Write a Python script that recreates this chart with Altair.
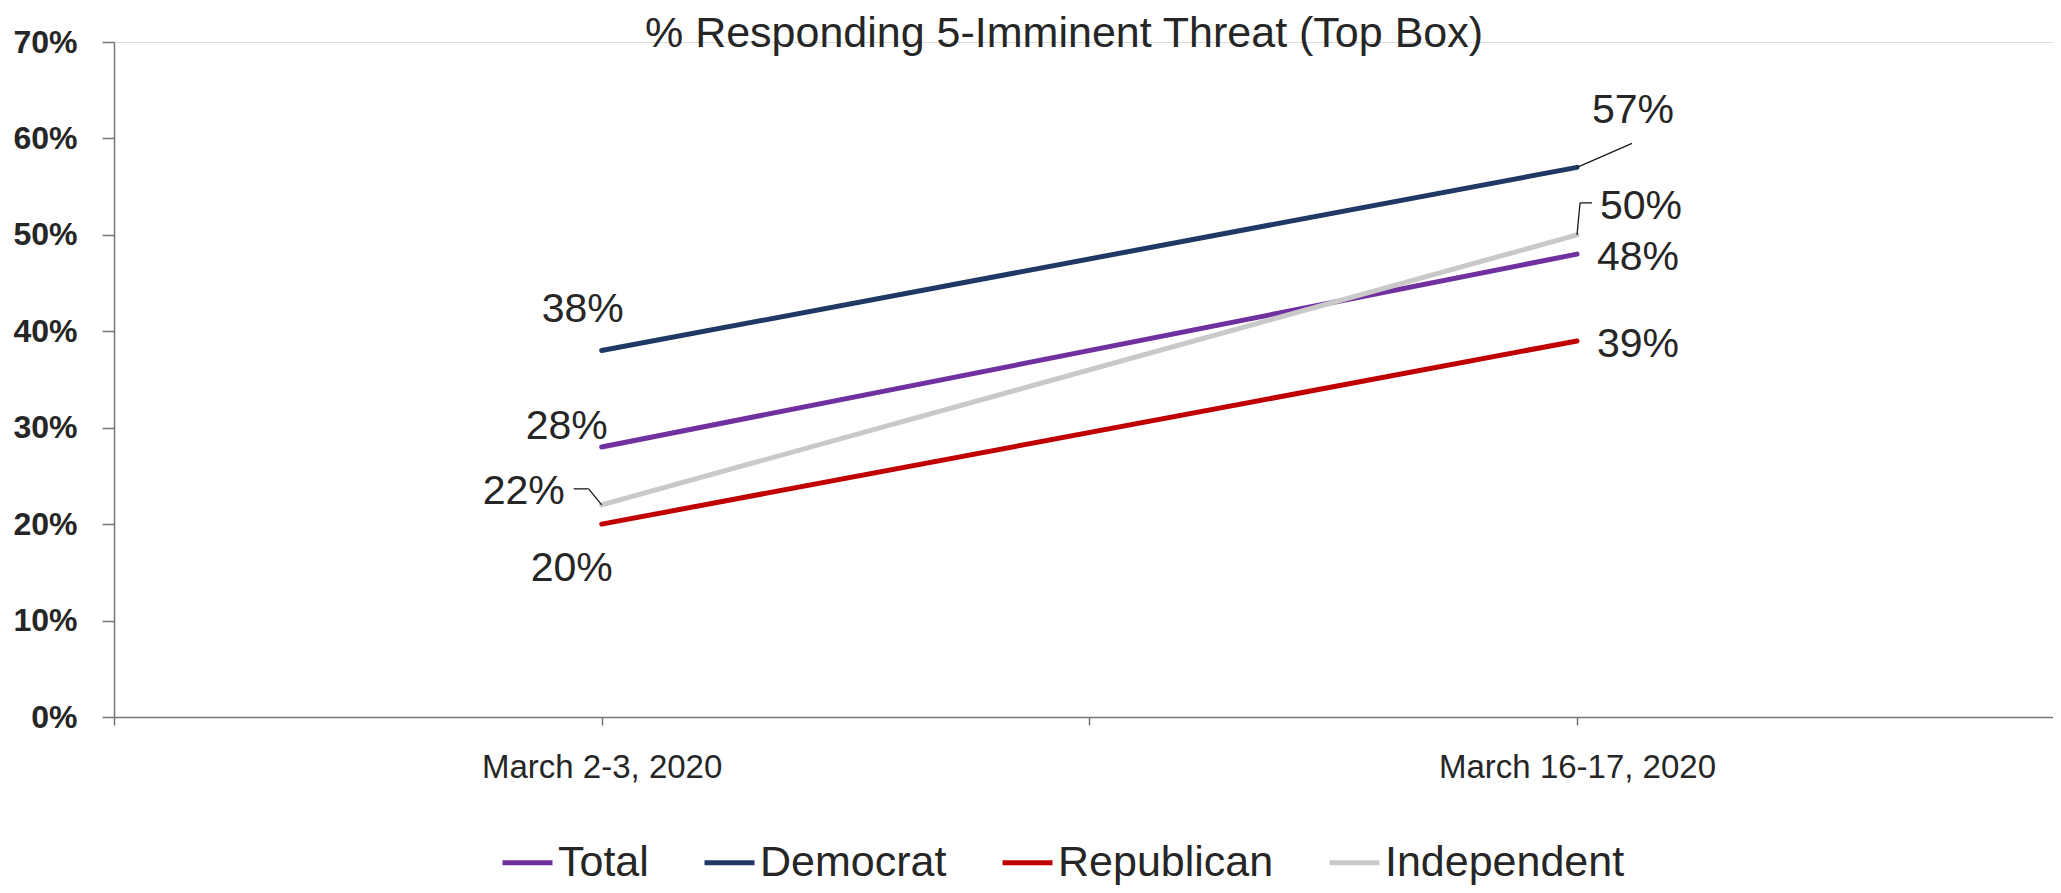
import altair as alt
import pandas as pd

# ---------------- data ----------------
dates = ["March 2-3, 2020", "March 16-17, 2020"]
series = ["Total", "Democrat", "Republican", "Independent"]
total = [28, 48]
democrat = [38, 57]
republican = [20, 39]
independent = [22, 50]
y_ticks = [0, 10, 20, 30, 40, 50, 60, 70]
title_text = "% Responding 5-Imminent Threat (Top Box)"

# ---------------- style ----------------
colors = ["#7030A0", "#1F3864", "#C00000", "#C9C9C9"]
FONT = "Liberation Sans"
TEXT = "#262626"
AXIS = "#767676"

# label offsets (pixels from the data point): series, date index, dx, dy
label_offsets = [
    ("Democrat", 0, -19, -41), ("Total", 0, -35, -20),
    ("Independent", 0, -78, -13), ("Republican", 0, -30, 45),
    ("Democrat", 1, 56, -56), ("Independent", 1, 64, -28),
    ("Total", 1, 61, 4), ("Republican", 1, 61, 4),
]
# leader segments: series, date index, start offset, end offset (pixels)
leaders = [
    ("Independent", 0, (0, 0), (-13, -16)),
    ("Independent", 0, (-13, -16), (-28, -16)),
    ("Democrat", 1, (0, 0), (55, -24)),
    ("Independent", 1, (0, 0), (3, -32)),
    ("Independent", 1, (3, -32), (15, -32)),
]

PAD_L, PAD_T, PAD_R, PAD_B = 106, 34, 0, 168
W, H = 1939, 675
X_MAX = 3.976

values = {"Total": total, "Democrat": democrat,
          "Republican": republican, "Independent": independent}
rows = []
for s in series:
    for i, d in enumerate(dates):
        rows.append({"series": s, "date": d, "pos": 2 * i + 1,
                     "value": values[s][i]})
df = pd.DataFrame(rows)

label_expr = " : ".join(
    [f"datum.value == {2 * i + 1} ? '{d}'" for i, d in enumerate(dates)]
) + " : ''"

x_enc = alt.X(
    "pos:Q",
    scale=alt.Scale(domain=[0, X_MAX], nice=False, zero=False),
    axis=alt.Axis(values=[0, 1, 2, 3], labelExpr=label_expr, title=None,
                  grid=False, tickSize=8, labelPadding=26, labelFontSize=33,
                  labelFont=FONT, labelColor=TEXT, domainColor=AXIS,
                  tickColor=AXIS, domainWidth=1.5, tickWidth=1.5,
                  labelFlush=False, labelOverlap=False, labelLimit=0),
)
y_enc = alt.Y(
    "value:Q",
    scale=alt.Scale(domain=[0, 70], nice=False),
    axis=alt.Axis(values=y_ticks, labelExpr="datum.value + '%'", title=None,
                  grid=False, tickSize=12, labelPadding=25, labelFontSize=32,
                  labelFontWeight="bold", labelFont=FONT, labelColor=TEXT,
                  domainColor=AXIS, tickColor=AXIS, domainWidth=1.5,
                  tickWidth=1.5),
)

base = alt.Chart(df)

lines = base.mark_line(strokeWidth=5, strokeCap="round").encode(
    x=x_enc,
    y=y_enc,
    color=alt.Color(
        "series:N",
        scale=alt.Scale(domain=series, range=colors),
        legend=alt.Legend(title=None, orient="none", legendX=386,
                          legendY=793, direction="horizontal",
                          symbolType="stroke", symbolSize=2500,
                          symbolStrokeWidth=5, labelFontSize=43,
                          labelFont=FONT, labelColor=TEXT, labelOffset=3,
                          columnPadding=45, labelLimit=0, padding=0),
    ),
)

layers = [lines]
for s, i, (x0, y0), (x1, y1) in leaders:
    layers.append(
        base.transform_filter(
            (alt.datum.series == s) & (alt.datum.pos == 2 * i + 1)
        ).mark_rule(color="#1a1a1a", strokeWidth=1.3, xOffset=x0, yOffset=y0,
                    x2Offset=x1, y2Offset=y1).encode(
            x=x_enc, y=y_enc, x2=alt.X2("pos:Q"), y2=alt.Y2("value:Q")
        )
    )
for s, i, dx, dy in label_offsets:
    layers.append(
        base.transform_filter(
            (alt.datum.series == s) & (alt.datum.pos == 2 * i + 1)
        ).transform_calculate(label="datum.value + '%'").mark_text(
            dx=dx, dy=dy, fontSize=41, font=FONT, color=TEXT,
            align="center", baseline="middle"
        ).encode(x=x_enc, y=y_enc, text="label:N")
    )

# chart title drawn as a text annotation above the plot
title_layer = alt.Chart(pd.DataFrame({"t": [title_text]})).mark_text(
    fontSize=43, font=FONT, color=TEXT, align="center", baseline="alphabetic"
).encode(text="t:N", x=alt.value(950), y=alt.value(5))
layers.append(title_layer)

chart = alt.layer(*layers).properties(
    width=W, height=H,
    autosize=alt.AutoSizeParams(type="none"),
    padding={"left": PAD_L, "top": PAD_T, "right": PAD_R, "bottom": PAD_B},
).configure_view(strokeWidth=0, clip=False).configure(background="white")

chart.save("out.html", embed_options={"renderer": "svg", "actions": False})
